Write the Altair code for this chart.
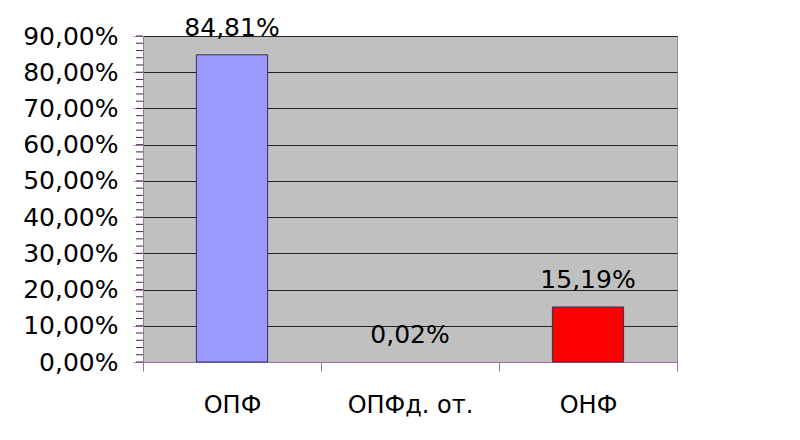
import altair as alt
import pandas as pd

categories = ["ОПФ", "ОПФд. от.", "ОНФ"]
values = [0.8481, 0.0002, 0.1519]
colors = ["#9999FF", "#9999FF", "#FF0000"]
y_ticks = [0.0, 0.1, 0.2, 0.3, 0.4, 0.5, 0.6, 0.7, 0.8, 0.9]

df = pd.DataFrame({"cat": categories, "val": values, "color": colors})
minor = pd.DataFrame({"v": [i / 100 for i in range(0, 91, 2)]})

FONT = "DejaVu Sans"

x_axis = alt.Axis(labelAngle=0, labelFontSize=24, labelFont=FONT,
                  labelColor="black", labelPadding=22, tickBand="extent",
                  tickSize=9, tickColor="#A070A0", domainColor="#A070A0",
                  labelOverlap=False, grid=False)
x_scale = alt.Scale(paddingInner=0, paddingOuter=0)
y_scale = alt.Scale(domain=[0, 0.9])
y_axis = alt.Axis(values=y_ticks,
                  labelExpr="replace(format(datum.value, '.2%'), '.', ',')",
                  labelFontSize=25, labelFont=FONT, labelColor="black",
                  labelOverlap=False,
                  labelPadding=15, tickSize=10, tickColor="#C080C0",
                  domainColor="#A070A0", grid=True, gridColor="#222222",
                  gridWidth=1)

base = alt.Chart(df)
bars = base.mark_bar(stroke="#333355", width=alt.RelativeBandSize(0.4)).encode(
    x=alt.X("cat:N", sort=categories, title=None, scale=x_scale, axis=x_axis),
    y=alt.Y("val:Q", title=None, scale=y_scale, axis=y_axis),
    color=alt.Color("color:N", scale=None),
    strokeWidth=alt.condition("datum.val > 0.001", alt.value(1), alt.value(0)))
labels = base.transform_calculate(
    lab="replace(format(datum.val, '.2%'), '.', ',')"
).mark_text(dy=-14, fontSize=25, font=FONT, color="black", baseline="bottom").encode(
    x=alt.X("cat:N", sort=categories, title=None, scale=x_scale, axis=x_axis),
    y=alt.Y("val:Q", title=None, scale=y_scale, axis=y_axis), text="lab:N")

minor_ticks = alt.Chart(minor).mark_rule(color="#333333", strokeWidth=1).encode(
    y=alt.Y("v:Q", title=None, scale=y_scale, axis=y_axis),
    x=alt.value(-7), x2=alt.value(0))

chart = alt.layer(bars, minor_ticks, labels).properties(
    width=534, height=326,
    autosize=alt.AutoSizeParams(type="none"),
    padding={"left": 135, "top": 28, "right": 100, "bottom": 60},
    background="white",
).configure_view(fill="#C0C0C0", stroke="#909090", strokeWidth=1)

chart.save("out.html", embed_options={"renderer": "svg", "actions": False})
